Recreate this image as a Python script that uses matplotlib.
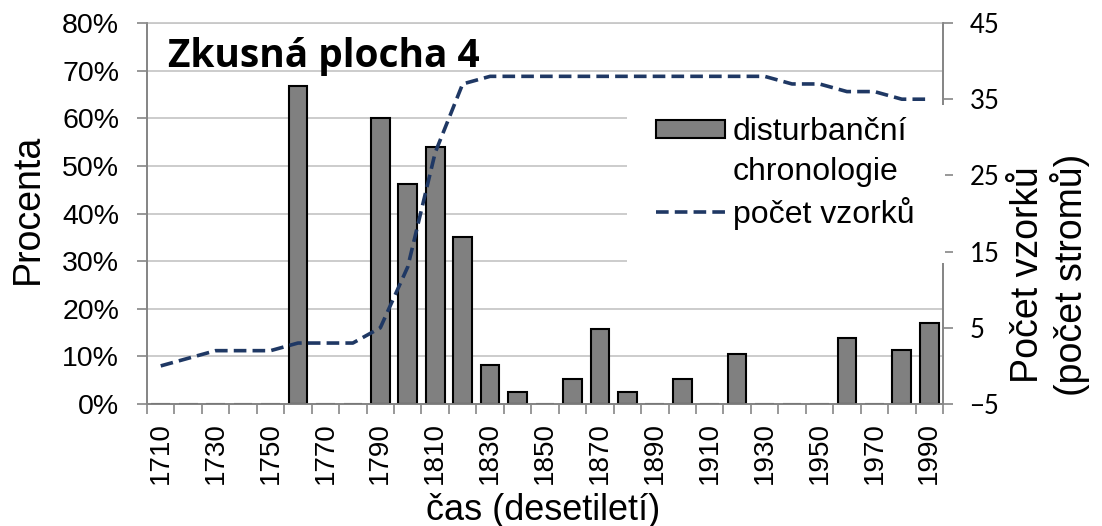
import matplotlib.pyplot as plt
import numpy as np
from matplotlib.ticker import FuncFormatter, MultipleLocator
from matplotlib.patches import Rectangle
from matplotlib.lines import Line2D

# decades and values
decades = list(range(1710, 2000, 10))
disturbance = [0, 0, 0, 0, 0, 66.7, 0, 0, 60.0, 46.2, 54.0, 35.1, 8.1, 2.6, 0,
               5.3, 15.8, 2.6, 0, 5.3, 0, 10.5, 0, 0, 0, 13.9, 0, 11.4, 17.1]
samples = [0, 1, 2, 2, 2, 3, 3, 3, 5, 13, 28, 37, 38, 38, 38,
           38, 38, 38, 38, 38, 38, 38, 38, 37, 37, 36, 36, 35, 35]

arial = 'Liberation Sans'
calibri = 'Lato'
gray_axis = '#868686'
grid_col = '#C8C8C8'

fig = plt.figure(figsize=(11.02, 5.26), dpi=100)
ax = fig.add_axes([147 / 1102, 1 - 404 / 526, 796 / 1102, 381 / 526])
ax2 = ax.twinx()

x = np.arange(len(decades))
bars = ax.bar(x, disturbance, width=0.68, color='#808080', edgecolor='black',
              linewidth=1.5, zorder=3)
line, = ax2.plot(x, samples, color='#1F3864', lw=2.6, dashes=(3.5, 1.7),
                 zorder=4)

ax.set_xlim(-0.5, len(decades) - 0.5)
ax.set_ylim(0, 80)
ax2.set_ylim(-5, 45)

ax.yaxis.set_major_locator(MultipleLocator(10))
ax.yaxis.set_major_formatter(FuncFormatter(lambda v, p: f'{v:.0f}%'))
ax.grid(axis='y', color=grid_col, lw=1.3, zorder=0)
ax.set_axisbelow(True)

ax.set_xticks(x[::2])
ax.set_xticklabels([str(d) for d in decades[::2]], rotation=90,
                   fontfamily=arial, fontsize=20)
ax.set_xticks(np.arange(-0.5, len(decades), 1), minor=True)
ax.tick_params(axis='x', which='major', length=0, pad=13)
ax.tick_params(axis='x', which='minor', length=7, color=gray_axis, width=1.2)
ax.tick_params(axis='y', length=7, color=gray_axis, width=1.2, labelsize=20.5,
               pad=13)
for t in ax.get_yticklabels():
    t.set_fontfamily(arial)

ax2.set_yticks(np.arange(-5, 46, 10))
ax2.tick_params(axis='y', length=7, color=gray_axis, width=1.2, labelsize=18.5,
                pad=12)
for t in ax2.get_yticklabels():
    t.set_fontfamily(calibri)

for a in (ax, ax2):
    for s in a.spines.values():
        s.set_color(gray_axis)
        s.set_linewidth(1.3)
    a.spines['top'].set_visible(False)
ax.spines['top'].set_visible(True)
ax.spines['top'].set_color(grid_col)

fig.text(28 / 1102, 1 - 209 / 526, 'Procenta', fontfamily=arial, fontsize=27,
         rotation=90, ha='center', va='center')
fig.text(543 / 1102, 1 - 510 / 526, 'čas (desetiletí)', fontfamily=arial,
         fontsize=26, ha='center', va='center')
fig.text(1050 / 1102, 1 - 275 / 526, 'Počet vzorků\n(počet stromů)',
         fontfamily=arial, fontsize=27, rotation=90, ha='center', va='center',
         multialignment='center', linespacing=1.12)

ax.text(0.026, 0.885, 'Zkusná plocha 4', transform=ax.transAxes,
        fontfamily='Open Sans', fontweight='bold', fontsize=28,
        va='baseline', zorder=6)

# white legend area (covers grid and right spine like the original)
ax2.add_patch(Rectangle((0.603, 0.37), 0.4, 0.415, transform=ax2.transAxes,
                        facecolor='white', edgecolor='none', zorder=8,
                        clip_on=False))
blank = Line2D([], [], color='none')
leg = ax2.legend([bars, blank, line],
                 ['disturbanční', 'chronologie', 'počet vzorků'],
                 loc='upper left', bbox_to_anchor=(0.640, 0.752),
                 borderaxespad=0, frameon=False, handlelength=2.15,
                 handleheight=0.5, handletextpad=0.25, borderpad=0,
                 labelspacing=0.3, prop={'family': arial, 'size': 23})
leg.set_zorder(10)

fig.savefig('out.png', dpi=100)
